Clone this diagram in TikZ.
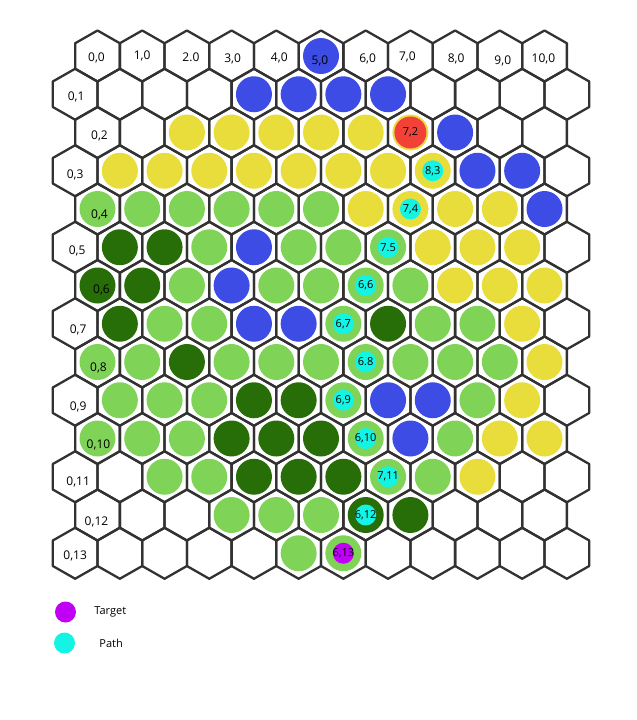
\documentclass[tikz,border=0pt]{standalone}
\usepackage{fontspec}
\setmainfont{Open Sans}
\usepackage{tikz}
\usetikzlibrary{positioning}

\definecolor{hexb}{RGB}{60,76,228}
\definecolor{hexy}{RGB}{233,221,60}
\definecolor{hexg}{RGB}{127,212,88}
\definecolor{hexd}{RGB}{40,110,8}
\definecolor{hexw}{RGB}{255,255,255}
\definecolor{pathc}{RGB}{20,244,228}
\definecolor{targetc}{RGB}{192,0,244}
\definecolor{startc}{RGB}{242,66,56}
\definecolor{gridline}{RGB}{50,50,50}

\begin{document}
\begin{tikzpicture}[x=1pt,y=-1pt]

\tikzset{
  hexline/.style={draw=gridline, line width=2.3pt, line join=round},
  disc/.style={circle, draw=none, inner sep=0pt, minimum size=36pt},
  cellnum/.style={font=\fontsize{12}{14}\selectfont, inner sep=0pt},
  pathdot/.style={circle, fill=pathc, inner sep=0pt, minimum size=21pt,
                  font=\fontsize{11}{13}\selectfont},
  targetdot/.style={pathdot, fill=targetc},
  startdot/.style={pathdot, fill=startc, minimum size=32pt},
  legendlabel/.style={font=\fontsize{11}{13}\selectfont, inner sep=1pt}
}

\newcommand{\hexcell}[1]{
  \draw[hexline] (#1) ++(0,-25.5) -- ++(22.35,12.75) -- ++(0,25.5)
    -- ++(-22.35,12.75) -- ++(-22.35,-12.75) -- ++(0,-25.5) -- cycle;
}

% Page
\useasboundingbox (0,0) rectangle (637,720);

% Grid: disc colour of every cell, row by row (w = empty cell)
\foreach \r/\row in {
  0/{w,w,w,w,w,b,w,w,w,w,w},
  1/{w,w,w,w,b,b,b,b,w,w,w,w},
  2/{w,w,y,y,y,y,y,y,b,w,w},
  3/{w,y,y,y,y,y,y,y,y,b,b,w},
  4/{g,g,g,g,g,g,y,y,y,y,b},
  5/{w,d,d,g,b,g,g,g,y,y,y,w},
  6/{d,d,g,b,g,g,g,g,y,y,y},
  7/{w,d,g,g,b,b,g,d,g,g,y,w},
  8/{g,g,d,g,g,g,g,g,g,g,y},
  9/{w,g,g,g,d,d,g,b,b,g,y,w},
  10/{g,g,g,d,d,d,g,b,g,y,y},
  11/{w,w,g,g,d,d,d,g,g,y,w,w},
  12/{w,w,w,g,g,g,d,d,w,w,w},
  13/{w,w,w,w,w,g,g,w,w,w,w,w}}{
  \foreach \c [count=\i from 0] in \row {
    \pgfmathsetmacro{\cx}{97.5+44.7*\i-22.35*mod(\r,2)}
    \pgfmathsetmacro{\cy}{56+38.25*\r}
    \coordinate (c\i-\r) at (\cx,\cy);
    \node[disc, fill=hex\c] (d\i-\r) at (c\i-\r) {};
    \hexcell{c\i-\r}
  }
}

% Top row labels
\foreach \i/\lab/\dx/\dy in {0/{0,0}/-1/2, 1/{1,0}/0/0, 2/{2.0}/4/1, 3/{3,0}/1/3,
    4/{4,0}/3/2, 5/{5,0}/-1/5, 6/{6,0}/2/3, 7/{7,0}/-3/1, 8/{8,0}/1/3,
    9/{9,0}/3/5, 10/{10,0}/-1/3}
  \node[cellnum] (top\i) at ([xshift=\dx pt, yshift=-\dy pt]c\i-0) {\lab};

% Left column labels
\foreach \r/\dx/\dy in {1/1/3, 2/2/3, 3/0/4, 4/2/6, 5/2/4, 6/4/4, 7/3/6,
    8/1/6, 9/3/7, 10/1/6, 11/3/5, 12/-1/7, 13/0/3}
  \node[cellnum] (left\r) at ([xshift=\dx pt, yshift=-\dy pt]c0-\r) {0,\r};

% Start, path and target
\node[startdot] (start) at (c7-2) {\makebox[0pt]{7,2}};
\foreach \i/\r/\lab in {8/3/{8,3}, 7/4/{7,4}, 7/5/{7.5}, 6/6/{6,6}, 6/7/{6,7},
    6/8/{6.8}, 6/9/{6,9}, 6/10/{6,10}, 7/11/{7,11}, 6/12/{6,12}}
  \node[pathdot] (p\i-\r) at (c\i-\r) {\makebox[0pt]{\lab}};
\node[targetdot] (target) at (c6-13) {\makebox[0pt]{6,13}};

% Legend
\node[disc, fill=targetc, minimum size=21pt] (legtarget) at (65.5,612) {};
\node[legendlabel, right=17pt of legtarget] (legtargettext) {Target};
\node[disc, fill=pathc, minimum size=21pt] (legpath) at (64.5,643) {};
\node[legendlabel, right=23pt of legpath] (legpathtext) {Path};

\end{tikzpicture}
\end{document}
